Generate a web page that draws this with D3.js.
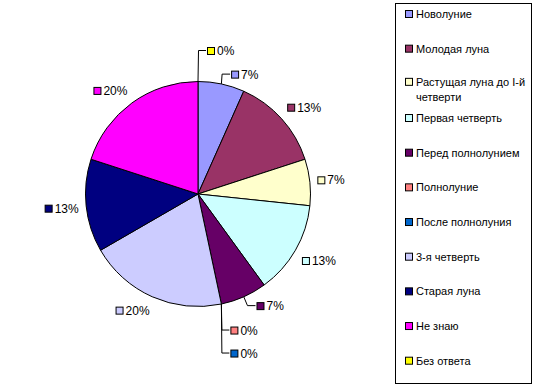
<!DOCTYPE html>
<html>
<head>
<meta charset="utf-8">
<script src="https://cdn.jsdelivr.net/npm/d3@7"></script>
<style>
body { margin: 0; background: #fff; }
svg text { font-family: "Liberation Sans", Arial, sans-serif; fill: #000; }
</style>
</head>
<body>
<svg id="chart" width="538" height="389"></svg>
<script>
// data: answers about moon phase (counts)
var categories = ["Новолуние", "Молодая луна", "Растущая луна до I-й четверти", "Первая четверть",
                  "Перед полнолунием", "Полнолуние", "После полнолуния", "3-я четверть",
                  "Старая луна", "Не знаю", "Без ответа"];
var legendLines = [["Новолуние"], ["Молодая луна"], ["Растущая луна до I-й", "четверти"], ["Первая четверть"],
                   ["Перед полнолунием"], ["Полнолуние"], ["После полнолуния"], ["3-я четверть"],
                   ["Старая луна"], ["Не знаю"], ["Без ответа"]];
var counts = [1, 2, 1, 2, 1, 0, 0, 3, 2, 3, 0];
var colors = ["#9999FF", "#993366", "#FFFFCC", "#CCFFFF", "#660066", "#FF8080",
              "#0066CC", "#CCCCFF", "#000080", "#FF00FF", "#FFFF00"];

var svg = d3.select("#chart");
var cx = 198, cy = 194, r = 112.5;
var total = d3.sum(counts);
var pct = d3.format(".0%");

var pie = d3.pie().sort(null).value(function(d){ return d; });
var arcs = pie(counts);
var arc = d3.arc().innerRadius(0).outerRadius(r);

var g = svg.append("g").attr("transform", "translate(" + cx + "," + cy + ")");
g.selectAll("path.slice")
  .data(arcs.filter(function(d){ return d.value > 0; }))
  .enter().append("path")
  .attr("class", "slice")
  .attr("d", arc)
  .attr("fill", function(d){ return colors[d.index]; })
  .attr("stroke", "#000")
  .attr("stroke-width", 1);

// label placement (Excel-ish): label box touches a point just outside the rim
var labelR = 120;
var nudge = { 0: [15, 4], 4: [10, -4.5] }; // labels moved aside, with leader lines
var zeroSeen = {};

var labels = svg.append("g");
arcs.forEach(function(d){
  var a = (d.startAngle + d.endAngle) / 2,
      s = Math.sin(a), c = Math.cos(a);
  var lg = labels.append("g");
  var txt = lg.append("text").attr("font-size", 12).text(pct(d.value / total));
  var tw = txt.node().getComputedTextLength();
  var w = 10 + tw, h = 13;
  var left, top, leader = null;
  var edge = [cx + r * s, cy - r * c];

  if (d.value === 0) {
    var key = a.toFixed(3);
    var k = zeroSeen[key] = (zeroSeen[key] === undefined ? 0 : zeroSeen[key] + 1);
    var dir = c > 0 ? -1 : 1;
    var yMid = edge[1] + dir * ((dir < 0 ? 31 : 26) + 23 * k);
    left = edge[0] + 9;
    top = yMid - h / 2;
    leader = [edge, [edge[0] + 0.5, yMid], [left - 1, yMid]];
  } else {
    var P = [cx + labelR * s, cy - labelR * c];
    var fx = Math.max(0, Math.min(1, 0.5 - s * 1.2)),
        fy = Math.max(0, Math.min(1, 0.5 + c * 1.2));
    left = P[0] - w * fx;
    top = P[1] - h * fy;
    if (nudge[d.index]) {
      left += nudge[d.index][0];
      top += nudge[d.index][1];
      var ym = top + h / 2;
      leader = [edge, [left - 9, ym], [left - 1, ym]];
    }
  }

  lg.attr("transform", "translate(" + left + "," + top + ")");
  lg.insert("rect", "text")
    .attr("x", 0.5).attr("y", 3.5).attr("width", 7).attr("height", 7)
    .attr("fill", colors[d.index]).attr("stroke", "#000").attr("stroke-width", 1);
  txt.attr("x", 10).attr("y", 11);

  if (leader) {
    labels.append("path")
      .attr("d", d3.line()(leader))
      .attr("fill", "none").attr("stroke", "#000").attr("stroke-width", 1);
  }
});

// legend
var lx = 395.5, ly = 3.5, lw = 136, lh = 380;
var legend = svg.append("g");
legend.append("rect")
  .attr("x", lx).attr("y", ly).attr("width", lw).attr("height", lh)
  .attr("fill", "#fff").attr("stroke", "#000").attr("stroke-width", 1);

var ys = d3.scalePoint().domain(categories).range([14, 360.7]);
var items = legend.selectAll("g.item")
  .data(categories)
  .enter().append("g")
  .attr("class", "item")
  .attr("transform", function(d, i){
    var y = ys(d) - (legendLines[i].length > 1 ? 1.5 : 0);
    return "translate(0," + y + ")";
  });

items.append("rect")
  .attr("x", 405.5).attr("y", -3.5).attr("width", 7).attr("height", 7)
  .attr("fill", function(d, i){ return colors[i]; })
  .attr("stroke", "#000").attr("stroke-width", 1);

items.append("text")
  .attr("x", 416)
  .attr("y", 4)
  .attr("font-size", 11)
  .each(function(d, i){
    var t = d3.select(this);
    legendLines[i].forEach(function(line, j){
      t.append("tspan").attr("x", 416).attr("dy", j === 0 ? 0 : 15).text(line);
    });
  });
</script>
</body>
</html>
